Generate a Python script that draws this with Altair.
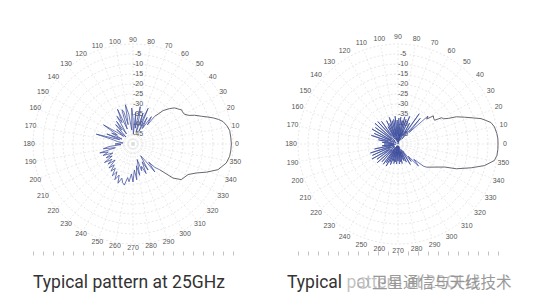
import altair as alt
import pandas as pd

# ---------------- data (deg, dB) ----------------
# Left panel: typical pattern at 25 GHz
L_main_deg = [-44, -40.4, -36.4, -29, -24.6, -21, -16.8, -11.5, -7.3, -4, 0, 4, 8, 11, 14, 16,
              18, 20, 22, 25, 27, 30, 33, 35, 38, 41, 44, 48, 50, 52]
L_main_db = [-31.5, -23.7, -20, -18.5, -15.2, -10.7, -5.6, -2.4, -1.3, -1.0, -0.8, -1.0, -1.2, -2.2,
             -3.6, -5.5, -7.8, -10.5, -13, -16, -18.5, -20.3, -20.5, -20.3, -21.5, -22.5, -24.5,
             -27.5, -30.5, -32.5]
L_side_deg = [52, 53, 56, 59, 62, 65, 67, 70, 72, 75, 77, 79, 82, 85, 88, 90, 92, 95, 98, 101, 104,
              106, 108, 111, 114, 117, 120, 123, 126, 129, 132, 135, 138, 141, 144, 147, 150, 153,
              156, 159, 162, 165, 168, 171, 174, 177, 180, 183, 186, 189, 192, 195, 198, 201, 204,
              207, 210, 213, 216, 219, 222, 225, 228, 231, 234, 237, 240, 243, 246, 249, 252, 255,
              258, 261, 264, 267, 270, 273, 276, 279, 282, 285, 288, 291, 294, 297, 300, 303, 306,
              308, 311, 313, 316]
L_side_db = [-32.5, -38, -33.5, -41, -35, -43, -30.6, -40, -33.8, -44, -36, -31, -42, -34, -45, -37,
             -32, -43, -35, -30, -40, -33, -32, -42, -31, -38, -34, -44, -36, -41, -37, -45, -39,
             -44, -40, -32.4, -41, -38, -44, -36, -43, -31, -40, -42, -45, -43, -41, -44, -38, -35,
             -41, -32.8, -37, -34, -39, -35, -38, -33, -37, -34, -38, -33, -36, -32.5, -35, -31,
             -34, -30, -33, -29, -32, -30, -29, -33, -31, -35, -31, -37, -32, -39, -34, -42, -36,
             -38, -33.8, -40, -35, -43, -40, -32.3, -38, -34, -31.5]

# Right panel: typical pattern at the higher frequency
R_main_deg = [-38.8, -32, -26.2, -23, -18, -14, -9.7, -6.5, -3, 0, 3, 6, 10, 13, 15, 17, 19, 22,
              25, 27, 29, 31, 33, 36, 38.5, 41, 43]
R_main_db = [-31.5, -28.2, -23.9, -18.3, -11.5, -5.4, -1.1, -0.2, 0, 0, 0, -0.3, -1, -2.3, -4.5,
             -6.6, -10, -14.2, -17.8, -21.8, -24, -24.5, -28.2, -28, -27.4, -31, -29.5]
R_side_deg = [43, 46, 49, 52, 55, 58, 61, 64, 67, 70,
              72, 74, 76, 78, 80, 82, 84, 86, 88, 90,
              92, 94, 96, 98, 100, 102, 104, 106, 108, 110,
              112, 114, 116, 118, 120, 123, 126, 129, 132, 135,
              138, 141, 144, 147, 150, 153, 156, 159, 162, 165,
              168, 171, 174, 177, 180, 183, 186, 189, 192, 195,
              198, 201, 204, 207, 210, 213, 216, 219, 222, 225,
              228, 231, 234, 236, 238, 240, 242, 244, 246, 248,
              250, 252, 254, 256, 258, 260, 262, 264, 266, 268,
              270, 272, 274, 276, 278, 280, 282, 284, 286, 288,
              290, 292, 295, 298, 301, 304, 307, 310, 313, 316,
              319, 321.2]
R_side_db = [-29.5, -42, -33, -47, -31.5, -45, -38, -48, -35, -46,
             -37, -49, -36, -47, -38, -50, -36.5, -46, -37, -49,
             -38, -45, -36, -48, -37.5, -46, -38, -49, -36, -45,
             -39, -48, -37, -46, -40, -47, -36, -45, -35, -48,
             -34.5, -46, -36, -49, -35, -46, -37, -48, -36, -45,
             -40, -47, -42, -48, -43, -49, -42, -47, -38, -48,
             -35.5, -46, -36, -48, -35, -45, -37, -48, -36, -46,
             -38, -48, -37.5, -47, -39, -49, -37.5, -46, -40, -49,
             -39, -46, -41, -49, -40, -47, -41, -49, -40, -46,
             -41.5, -49, -40, -47, -41, -49, -40, -46, -42, -49,
             -41, -46, -40, -47, -38, -46, -39, -42, -35, -39,
             -33, -31.5]
assert len(R_side_deg) == len(R_side_db)
assert len(L_side_deg) == len(L_side_db)

ring_db = [-45, -40, -35, -30, -25, -20, -15, -10, -5, 0]
ring_label_db = [-5, -10, -15, -20, -25, -30, -35, -40, -45]
spoke_deg = [0, 10, 20, 30, 40, 50, 60, 70, 80, 90, 100, 110, 120, 130, 140, 150, 160, 170, 180,
             190, 200, 210, 220, 230, 240, 250, 260, 270, 280, 290, 300, 310, 320, 330, 340, 350]
bottom_ticks = [-50, -45, -40, -35, -30, -25, -20, -15, -10, -5, 0, 5, 10, 15, 20, 25, 30, 35,
                40, 45, 50]

captions = ["Typical pattern at 25GHz", "Typical pattern at 28GHz"]
watermark = "卫星通信与天线技术"

FLOOR = 50          # dB floor at the centre
YDOM = [-53.5, 72]
PLOT_H = 251

circle_steps = list(range(0, 361, 3))
ring_df = pd.DataFrame([{"ring": d, "t": t} for d in ring_db for t in circle_steps])
spoke_df = pd.DataFrame({"deg": spoke_deg})
rlab_df = pd.DataFrame({"db": ring_label_db})

COS = "cos(datum.{a} * PI / 180)"
SIN = "sin(datum.{a} * PI / 180)"


def trace_df(deg, db):
    return pd.DataFrame({"deg": deg, "db": db, "i": range(len(deg))})


def panel(main_deg, main_db, side_deg, side_db, caption, xdom, width, cap_x, label_r,
          add_wm=False):
    xs = alt.Scale(domain=xdom, nice=False, zero=False)
    ys = alt.Scale(domain=YDOM, nice=False, zero=False)
    xaxis = alt.Axis(values=bottom_ticks, labels=False, domain=False, grid=False, ticks=True,
                     tickColor="#a8a8a8", tickSize=4, tickWidth=0.7, title=None)

    def X(f):
        return alt.X(f, type="quantitative", scale=xs, axis=xaxis)

    def Y(f):
        return alt.Y(f, type="quantitative", scale=ys, axis=None)

    rings = alt.Chart(ring_df).transform_calculate(
        x=f"(datum.ring + {FLOOR}) * " + COS.format(a="t"),
        y=f"(datum.ring + {FLOOR}) * " + SIN.format(a="t"),
    ).mark_line(color="#d6d6d6", strokeWidth=0.6, strokeDash=[2, 2]).encode(
        x=X("x"), y=Y("y"), detail="ring:N", order="t:Q")

    spokes = alt.Chart(spoke_df).transform_calculate(
        x0="0", y0="0",
        x1=f"{FLOOR} * " + COS.format(a="deg"),
        y1=f"{FLOOR} * " + SIN.format(a="deg"),
    ).mark_rule(color="#dedede", strokeWidth=0.6, strokeDash=[2, 2]).encode(
        x=X("x0"), y=Y("y0"), x2="x1:Q", y2="y1:Q")

    alabels = alt.Chart(spoke_df).transform_calculate(
        x=f"{label_r} * " + COS.format(a="deg"),
        y=f"{label_r} * " + SIN.format(a="deg"),
        lab="'' + datum.deg",
    ).mark_text(fontSize=7, font="Liberation Sans", color="#555555", align="center",
                baseline="middle").encode(x=X("x"), y=Y("y"), text="lab:N")

    rlabels = alt.Chart(rlab_df).transform_calculate(
        x="0", y=f"datum.db + {FLOOR}", lab="'' + datum.db",
    ).mark_text(fontSize=7, font="Liberation Sans", color="#555555", align="center",
                baseline="middle", dx=5).encode(x=X("x"), y=Y("y"), text="lab:N")

    def trace(deg, db, color, w):
        return alt.Chart(trace_df(deg, db)).transform_calculate(
            x=f"(datum.db + {FLOOR}) * " + COS.format(a="deg"),
            y=f"(datum.db + {FLOOR}) * " + SIN.format(a="deg"),
        ).mark_line(color=color, strokeWidth=w, strokeJoin="miter").encode(
            x=X("x"), y=Y("y"), order="i:Q")

    main = trace(main_deg, main_db, "#55555f", 0.9)
    side = trace(side_deg, side_db, "#3c4c9c", 0.75)

    cap = alt.Chart(pd.DataFrame({"c": [caption]})).mark_text(
        fontSize=17.5, font="Roboto", color="#333333", align="left", baseline="middle"
    ).encode(x=alt.value(cap_x), y=alt.value(283), text="c:N")

    layers = [rings, spokes, rlabels, alabels, side, main, cap]
    if add_wm:
        one = pd.DataFrame({"w": [watermark]})
        veil = alt.Chart(one).mark_rect(color="white", opacity=0.7).encode(
            x=alt.value(80), x2=alt.value(250), y=alt.value(273), y2=alt.value(294))
        icon = alt.Chart(one).mark_point(shape="circle", size=110, color="#a0a0a0",
                                         strokeWidth=1.2, filled=False).encode(
            x=alt.value(97), y=alt.value(283))
        wm = alt.Chart(one).mark_text(
            fontSize=15.5, font="Noto Sans CJK SC", color="#8f8f8f", align="left",
            baseline="middle", opacity=0.9
        ).encode(x=alt.value(106), y=alt.value(283), text="w:N")
        layers += [veil, icon, wm]
    return alt.layer(*layers).properties(width=width, height=PLOT_H)


left = panel(L_main_deg, L_main_db, L_side_deg, L_side_db, captions[0],
             [-66.5, 66.5], 266, 33, 52)
right = panel(R_main_deg, R_main_db, R_side_deg, R_side_db, captions[1],
              [-66, 72.5], 277, 21, 53.5, add_wm=True)

chart = alt.hconcat(left, right, spacing=0).properties(
    padding=0, background="white"
).configure_view(strokeWidth=0)

chart.save("out.html", embed_options={"renderer": "svg", "actions": False})
